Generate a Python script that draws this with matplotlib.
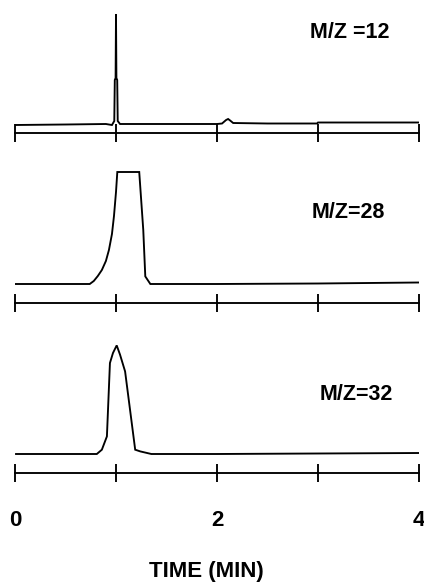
import matplotlib
matplotlib.use("Agg")
from matplotlib import pyplot as plt

plt.rcParams['font.family'] = ['Liberation Sans', 'DejaVu Sans']

# time axis (min) and tick labels
ticks = [0, 1, 2, 3, 4]
tick_labels = ["0", "", "2", "", "4"]
panel_labels = ["M/Z =12", "M/Z=28", "M/Z=32"]

# m/z 12 trace (relative intensity)
t12 = [0.0, 0.5, 0.9, 0.96, 0.983, 0.988, 0.996, 1.0, 1.004, 1.012, 1.017, 1.04, 1.5,
       2.0, 2.05, 2.09, 2.11, 2.13, 2.16, 2.5, 2.99, 3.0, 3.5, 4.0]
s12 = [-1, -0.5, 0, -1, 3, 44, 46, 110, 46, 44, 3, 0, 0,
       0, 0.5, 4, 5, 3.5, 1, 0.5, 0.5, 1.5, 1.5, 1.5]

# m/z 28 trace
t28 = [0.0, 0.5, 0.74, 0.78, 0.82, 0.86, 0.9, 0.93, 0.96, 0.98, 1.0, 1.013,
       1.23, 1.27, 1.29, 1.34, 2.0, 3.0, 4.0]
s28 = [0, 0, 0, 3, 8, 14, 23, 34, 50, 68, 92, 112,
       112, 54, 7.6, 0, 0, 0.5, 1.5]

# m/z 32 trace
t32 = [0.01, 0.5, 0.81, 0.86, 0.91, 0.94, 0.97, 1.007, 1.04, 1.09, 1.19, 1.24, 1.35, 2.0, 3.0, 4.0]
s32 = [0, 0, 0, 4.3, 17.6, 91, 101, 108.6, 99.3, 82.6, 4.3, 2.6, 0, 0, 0.5, 1]

W, H = 424, 586
fig = plt.figure(figsize=(W / 100, H / 100), dpi=100)

def px_axes(bottom_px, top_px):
    return fig.add_axes([15 / W, 1 - bottom_px / H, 404 / W, (bottom_px - top_px) / H])

# (axis line y px, top px, baseline offset px)
panels = [(133, 5, 9), (303, 160, 19), (473, 330, 19)]
traces = [(t12, s12), (t28, s28), (t32, s32)]
label_pos = [(350, 32), (348, 213), (356, 395)]

for i, ((ybot, ytop, off), (t, s)) in enumerate(zip(panels, traces)):
    ax = px_axes(ybot, ytop)
    ax.plot(t, s, color="black", lw=1.35, solid_joinstyle="miter")
    ax.set_xlim(0, 4)
    ax.set_ylim(-off, (ybot - ytop) - off)
    for side in ["top", "left", "right"]:
        ax.spines[side].set_visible(False)
    ax.spines["bottom"].set_linewidth(1.35)
    ax.set_yticks([])
    ax.set_xticks(ticks)
    ax.tick_params(axis="x", direction="inout", length=12.96, width=1.35, pad=20)
    if i == 2:
        ax.set_xticklabels(tick_labels, fontsize=16, fontweight="bold")
    else:
        ax.set_xticklabels([])
    ax.patch.set_visible(False)
    lx, ly = label_pos[i]
    fig.text(lx / W, 1 - ly / H, panel_labels[i], ha="center", va="center",
             fontsize=15.5, fontweight="bold")

fig.text(206 / W, 1 - 572 / H, "TIME (MIN)", ha="center", va="center",
         fontsize=16, fontweight="bold")

fig.savefig("out.png", dpi=100)
